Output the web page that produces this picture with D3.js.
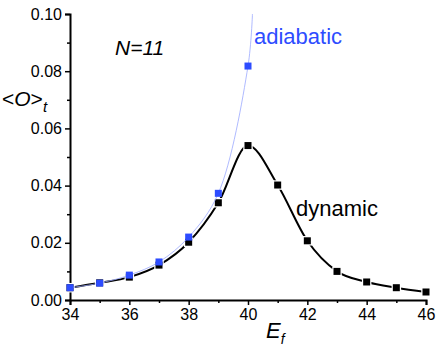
<!DOCTYPE html>
<html>
<head>
<meta charset="utf-8">
<script src="https://cdn.jsdelivr.net/npm/d3@7"></script>
<style>
  body { margin: 0; background: #fff; }
  text { font-family: "Liberation Sans", Arial, sans-serif; }
</style>
</head>
<body>
<div id="chart"></div>
<script>
// data
var energies = [34, 35, 36, 37, 38, 39, 40, 41, 42, 43, 44, 45, 46];
var dynamicO = [0.0043, 0.0060, 0.0080, 0.0122, 0.0202, 0.0340, 0.0540, 0.0402, 0.0207, 0.0100, 0.0063, 0.0043, 0.0028];
var adiabaticE = [34, 35, 36, 37, 38, 39, 40];
var adiabaticO = [0.0043, 0.0059, 0.0087, 0.0133, 0.0220, 0.0373, 0.0818];
// the thin adiabatic guide line runs on past the last point to the top
var adiabaticLineE = [34, 35, 36, 37, 38, 39, 40, 40.15];
var adiabaticLineO = [0.0043, 0.0059, 0.0087, 0.0133, 0.0220, 0.0373, 0.0818, 0.100];
var xMajor = [34, 36, 38, 40, 42, 44, 46];
var xMinor = [35, 37, 39, 41, 43, 45];
var yMajor = [0, 0.02, 0.04, 0.06, 0.08, 0.10];
var yMinor = [0.01, 0.03, 0.05, 0.07, 0.09];

////////////////////////////////////////////////////////////
//////////////////////// Setup /////////////////////////////
////////////////////////////////////////////////////////////
var W = 436, H = 351;
var margin = {left: 70, top: 14, right: 10, bottom: 51},
    width = W - margin.left - margin.right,
    height = H - margin.top - margin.bottom;

var blue = "#2d4cff";

var svg = d3.select("#chart").append("svg")
  .attr("width", W).attr("height", H);

var g = svg.append("g")
  .attr("transform", "translate(" + margin.left + "," + margin.top + ")");

var x = d3.scaleLinear().domain([34, 46]).range([0, width]);
var y = d3.scaleLinear().domain([0, 0.10]).range([height, 0]);

////////////////////////////////////////////////////////////
//////////////////////// Axes //////////////////////////////
////////////////////////////////////////////////////////////
g.append("g").attr("transform", "translate(0," + height + ")")
  .call(d3.axisBottom(x).tickValues(xMajor).tickSize(5).tickPadding(4).tickFormat(d3.format("d")));
g.append("g").attr("transform", "translate(0," + height + ")")
  .call(d3.axisBottom(x).tickValues(xMinor).tickSize(3).tickFormat(""))
  .select(".domain").remove();

g.append("g")
  .call(d3.axisLeft(y).tickValues(yMajor).tickSize(5).tickPadding(3).tickFormat(d3.format(".2f")));
g.append("g")
  .call(d3.axisLeft(y).tickValues(yMinor).tickSize(3).tickFormat(""))
  .select(".domain").remove();

g.selectAll(".domain").attr("stroke", "#000").attr("stroke-width", 2);
g.selectAll(".tick line").attr("stroke", "#000").attr("stroke-width", 1.5);
g.selectAll(".tick text").attr("fill", "#000").style("font-size", "16px")
  .style("font-family", "'Liberation Sans', Arial, sans-serif");

////////////////////////////////////////////////////////////
//////////////////////// Lines /////////////////////////////
////////////////////////////////////////////////////////////
var dyn = energies.map(function(e, i) { return {e: e, o: dynamicO[i]}; });
var adi = adiabaticE.map(function(e, i) { return {e: e, o: adiabaticO[i]}; });
var adiLine = adiabaticLineE.map(function(e, i) { return {e: e, o: adiabaticLineO[i]}; });

var line = d3.line()
  .x(function(d) { return x(d.e); })
  .y(function(d) { return y(d.o); })
  .curve(d3.curveMonotoneX);

g.append("path").datum(dyn)
  .attr("d", line)
  .attr("fill", "none").attr("stroke", "#000").attr("stroke-width", 2);

var ms = 7;
g.selectAll(".dynPt").data(dyn).enter().append("rect")
  .attr("class", "dynPt")
  .attr("x", function(d) { return x(d.e) - ms / 2; })
  .attr("y", function(d) { return y(d.o) - ms / 2; })
  .attr("width", ms).attr("height", ms)
  .attr("fill", "#000").attr("stroke", "#fff").attr("stroke-width", 2.5)
  .attr("paint-order", "stroke");

g.append("path").datum(adiLine)
  .attr("d", line.curve(d3.curveCatmullRom))
  .attr("fill", "none").attr("stroke", "#9aa8ff").attr("stroke-width", 0.8);

g.selectAll(".adiPt").data(adi).enter().append("rect")
  .attr("class", "adiPt")
  .attr("x", function(d) { return x(d.e) - ms / 2; })
  .attr("y", function(d) { return y(d.o) - ms / 2; })
  .attr("width", ms).attr("height", ms)
  .attr("fill", blue);

////////////////////////////////////////////////////////////
//////////////////////// Labels ////////////////////////////
////////////////////////////////////////////////////////////
svg.append("text").attr("x", 115).attr("y", 55)
  .style("font-size", "21px").style("font-style", "italic").text("N=11");

svg.append("text").attr("x", 254).attr("y", 44)
  .style("font-size", "22px").attr("fill", blue).text("adiabatic");

svg.append("text").attr("x", 296).attr("y", 216)
  .style("font-size", "22px").attr("fill", "#000").text("dynamic");

var yl = svg.append("text").attr("x", 2).attr("y", 106).style("font-size", "21px");
yl.append("tspan").text("<");
yl.append("tspan").style("font-style", "italic").text("O");
yl.append("tspan").text(">");
yl.append("tspan").attr("dy", 6).style("font-size", "15px").style("font-style", "italic").text("t");

var xl = svg.append("text").attr("x", 266).attr("y", 338).style("font-size", "22px").style("font-style", "italic");
xl.append("tspan").text("E");
xl.append("tspan").attr("dy", 6).style("font-size", "14px").text("f");
</script>
</body>
</html>
